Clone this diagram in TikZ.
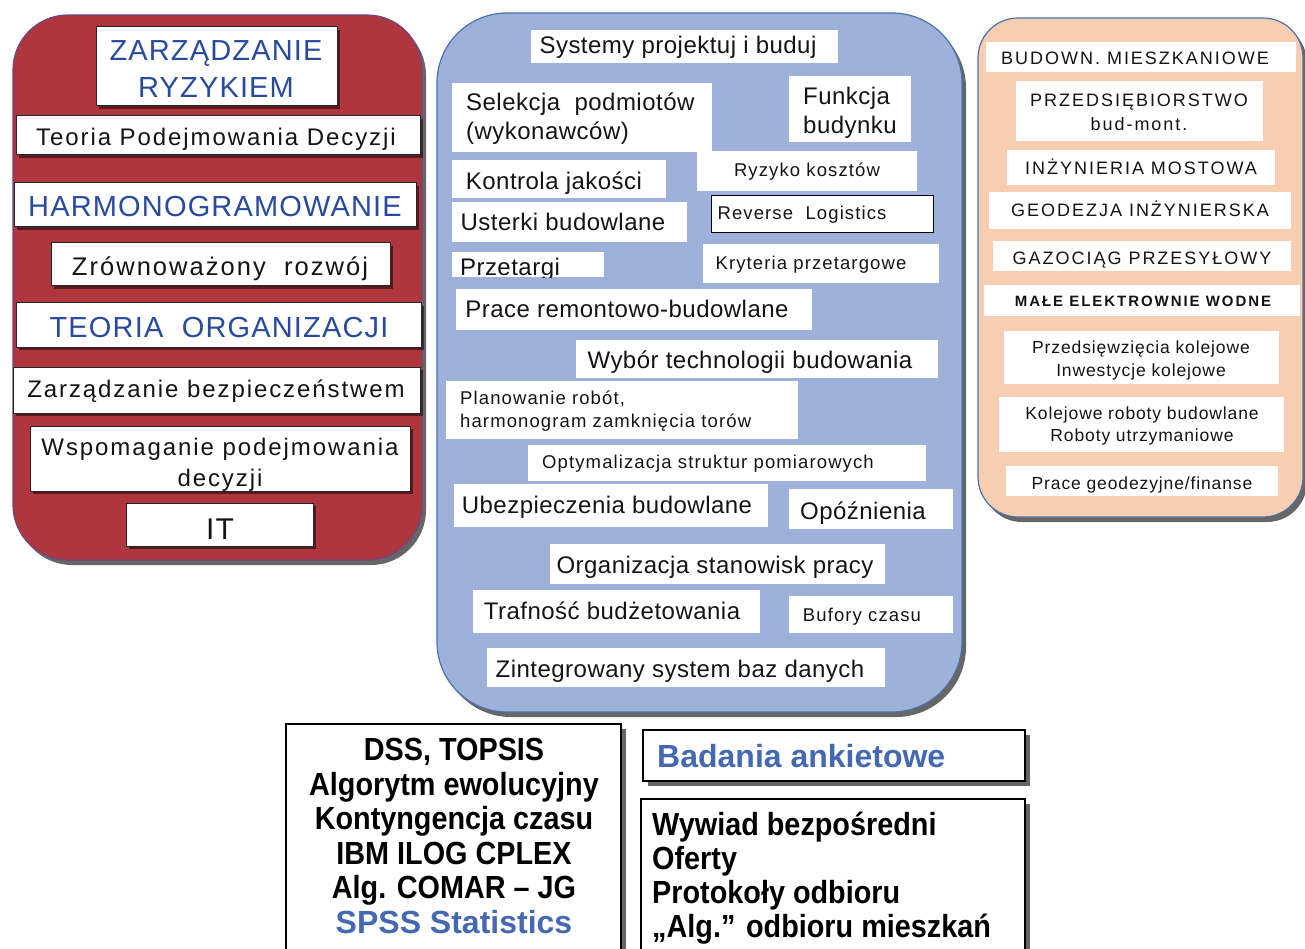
\documentclass[tikz,border=0pt]{standalone}
\usepackage{fontspec}
\setmainfont{Liberation Sans}
\newfontfamily\fLk[LetterSpace=8]{Liberation Sans}
\newfontfamily\fLb[LetterSpace=4]{Liberation Sans}
\newfontfamily\fMb[LetterSpace=2]{Liberation Sans}
\newfontfamily\fMs[LetterSpace=6]{Liberation Sans}
\newfontfamily\fRc[LetterSpace=11]{Liberation Sans}
\newfontfamily\fRl[LetterSpace=5]{Liberation Sans}
\newfontfamily\fRw[LetterSpace=13]{Liberation Sans}
\newfontfamily\fNb[FakeStretch=0.9]{Liberation Sans}
\usetikzlibrary{fit,shadows}
\definecolor{redp}{RGB}{176,54,62}
\definecolor{redb}{RGB}{110,70,130}
\definecolor{bluep}{RGB}{158,177,218}
\definecolor{blueb}{RGB}{74,115,168}
\definecolor{peach}{RGB}{248,206,178}
\definecolor{tblue}{RGB}{40,75,160}
\definecolor{tbluetwo}{RGB}{68,104,178}
\definecolor{tdark}{RGB}{20,20,20}
\newcommand\bx[6]{\node[#6, fit={(#2,#3) (#4,#5)}, inner sep=0pt] (#1) {};}
% for multi-line texts, #4 is the centre of the LAST line
\newcommand\tx[9]{\node[inner sep=0pt, text=tdark, anchor=#2, font={#7\fontsize{#5}{#6}\selectfont}, #8] (#1) at (#3,{#4+0.36*#5}) {#9};}
\begin{document}
\begin{tikzpicture}[x=1pt,y=-1pt,
  panel/.style={line width=1.2pt, drop shadow={shadow xshift=4pt,shadow yshift=-5pt,opacity=0.6,fill=black}},
  lbox/.style={draw=black!85, fill=white, line width=1pt, drop shadow={shadow xshift=3pt,shadow yshift=-3pt,opacity=0.5,fill=black}},
  mbox/.style={fill=white},
  rlbox/.style={fill=white, draw=black, line width=1pt},
  bbox/.style={draw=black, line width=1.5pt, fill=white, drop shadow={shadow xshift=5pt,shadow yshift=-5pt,opacity=0.6,fill=black}}]
\useasboundingbox (0,0) rectangle (1305,949);
\fill[white] (0,0) rectangle (1305,949);
% panels
\node[panel, fill=redp, draw=redb, rounded corners=55pt, inner sep=0pt, fit={(13,15) (422,560)}] (LP) {};
\node[panel, fill=bluep, draw=blueb, rounded corners=70pt, inner sep=0pt, fit={(437,13) (962,712)}] (MP) {};
\node[panel, fill=peach, draw=blueb, rounded corners=40pt, inner sep=0pt, fit={(978,18) (1303,517)}] (RP) {};
% left panel
\bx{b1}{96}{27}{337}{106}{lbox}
\tx{t1}{base}{216}{87}{29}{37}{\fLb}{align=center,text=tblue}{ZARZĄDZANIE\\RYZYKIEM}
\bx{b2}{16}{116}{420}{155}{lbox}
\tx{t2}{base}{216}{137}{24}{29}{\fLk}{}{Teoria Podejmowania Decyzji}
\bx{b3}{14}{183}{416}{227}{lbox}
\tx{t3}{base}{215}{206}{29}{35}{\fLb}{text=tblue}{HARMONOGRAMOWANIE}
\bx{b4}{51}{243}{390}{286}{lbox}
\tx{t4}{base}{220}{266}{25.5}{30}{\fLk}{}{Zrównoważony\ \ rozwój}
\bx{b5}{16}{303}{421}{347}{lbox}
\tx{t5}{base}{219}{327}{29}{35}{\fLb}{text=tblue}{TEORIA\ \ ORGANIZACJI}
\bx{b6}{13}{367}{420}{413}{lbox}
\tx{t6}{base}{216}{389}{24}{29}{\fLk}{}{Zarządzanie bezpieczeństwem}
\bx{b7}{30}{426}{410}{491}{lbox}
\tx{t7}{base}{220}{478}{24}{31}{\fLk}{align=center}{Wspomaganie podejmowania\\decyzji}
\bx{b8}{126}{503}{313}{546}{lbox}
\tx{t8}{base}{220}{529}{30}{36}{\fLb}{}{IT}
% middle panel
\bx{m1}{531}{30}{838}{63}{mbox}
\tx{n1}{base}{678}{45}{24}{29}{\fMb}{}{Systemy projektuj i buduj}
\bx{m2}{452}{83}{712}{152}{mbox}
\tx{n2}{base west}{466}{131}{24}{29}{\fMb}{align=left}{Selekcja\ \ podmiotów\\(wykonawców)}
\bx{m3}{789}{76}{911}{142}{mbox}
\tx{n3}{base west}{803}{125}{24}{29}{\fMb}{align=left}{Funkcja\\budynku}
\bx{m4}{697}{151}{917}{191}{mbox}
\tx{n4}{base}{807}{170}{18.5}{22}{\fMs}{}{Ryzyko kosztów}
\bx{m5}{452}{160}{666}{198}{mbox}
\tx{n5}{base}{554}{181}{24}{29}{\fMb}{}{Kontrola jakości}
\bx{m6}{452}{202}{687}{242}{mbox}
\tx{n6}{base}{563}{222}{24}{29}{\fMb}{}{Usterki budowlane}
\bx{m7}{711}{196}{933}{233}{rlbox}
\tx{n7}{base}{802}{213}{18.5}{22}{\fMs}{}{Reverse\ \ Logistics}
\bx{m8}{452}{252}{604}{277}{mbox}
\begin{scope}
\clip (m8.south west) rectangle (m8.north east);
\tx{n8}{base}{510}{267}{24}{29}{\fMb}{}{Przetargi}
\end{scope}
\bx{m9}{703}{244}{939}{283}{mbox}
\tx{n9}{base}{811}{263}{18.5}{22}{\fMs}{}{Kryteria przetargowe}
\bx{m10}{456}{289}{812}{330}{mbox}
\tx{n10}{base}{627}{309}{24}{29}{\fMb}{}{Prace remontowo-budowlane}
\bx{m11}{576}{340}{938}{378}{mbox}
\tx{n11}{base}{750}{360}{24}{29}{\fMb}{}{Wybór technologii budowania}
\bx{m12}{446}{381}{798}{439}{mbox}
\tx{n12}{base west}{460}{421}{18.5}{23}{\fMs}{align=left}{Planowanie robót,\\harmonogram zamknięcia torów}
\bx{m13}{528}{445}{926}{481}{mbox}
\tx{n13}{base}{708}{462}{18.5}{22}{\fMs}{}{Optymalizacja struktur pomiarowych}
\bx{m14}{454}{484}{768}{527}{mbox}
\tx{n14}{base}{607}{505}{24}{29}{\fMb}{}{Ubezpieczenia budowlane}
\bx{m15}{789}{489}{953}{529}{mbox}
\tx{n15}{base}{863}{511}{24}{29}{\fMb}{}{Opóźnienia}
\bx{m16}{550}{544}{885}{584}{mbox}
\tx{n16}{base}{715}{565}{24}{29}{\fMb}{}{Organizacja stanowisk pracy}
\bx{m17}{473}{590}{760}{633}{mbox}
\tx{n17}{base}{612}{611}{24}{29}{\fMb}{}{Trafność budżetowania}
\bx{m18}{789}{596}{953}{633}{mbox}
\tx{n18}{base}{862}{615}{18.5}{22}{\fMs}{}{Bufory czasu}
\bx{m19}{487}{648}{885}{687}{mbox}
\tx{n19}{base}{680}{669}{24}{29}{\fMb}{}{Zintegrowany system baz danych}
% right panel
\bx{r1}{986}{42}{1296}{72}{mbox}
\tx{s1}{base}{1135}{58}{18}{22}{\fRc}{}{BUDOWN. MIESZKANIOWE}
\bx{r2}{1016}{81}{1263}{141}{mbox}
\tx{s2}{base}{1139}{124}{18}{24}{\fRc}{align=center}{PRZEDSIĘBIORSTWO\\bud-mont.}
\bx{r3}{1007}{150}{1275}{185}{mbox}
\tx{s3}{base}{1141}{168}{18}{22}{\fRc}{}{INŻYNIERIA MOSTOWA}
\bx{r4}{989}{192}{1291}{229}{mbox}
\tx{s4}{base}{1140}{210}{18}{22}{\fRc}{}{GEODEZJA INŻYNIERSKA}
\bx{r5}{993}{241}{1291}{271}{mbox}
\tx{s5}{base}{1142}{258}{18}{22}{\fRc}{}{GAZOCIĄG PRZESYŁOWY}
\bx{r6}{984}{285}{1300}{316}{mbox}
\tx{s6}{base}{1143}{301}{15}{18}{\fRw\bfseries}{}{MAŁE ELEKTROWNIE WODNE}
\bx{r7}{1004}{331}{1279}{384}{mbox}
\tx{s7}{base}{1141}{370}{17.5}{23}{\fRl}{align=center}{Przedsięwzięcia kolejowe\\Inwestycje kolejowe}
\bx{r8}{999}{397}{1284}{452}{mbox}
\tx{s8}{base}{1142}{435}{17.5}{22}{\fRl}{align=center}{Kolejowe roboty budowlane\\Roboty utrzymaniowe}
\bx{r9}{1006}{466}{1278}{496}{mbox}
\tx{s9}{base}{1142}{483}{17.5}{22}{\fRl}{}{Prace geodezyjne/finanse}
% bottom
\bx{bl}{286}{724}{621}{965}{bbox}
\tx{u1}{base}{454}{922}{32}{34.6}{\fNb\bfseries}{align=center,text=black}{DSS, TOPSIS\\Algorytm ewolucyjny\\Kontyngencja czasu\\IBM ILOG CPLEX\\Alg. COMAR – JG\\\textcolor{tbluetwo}{\rmfamily SPSS Statistics}}
\bx{ba}{643}{730}{1025}{781}{bbox}
\tx{u2}{base west}{657}{756}{32}{36}{\bfseries}{text=tbluetwo}{Badania ankietowe}
\bx{br}{641}{799}{1025}{965}{bbox}
\tx{u3}{base west}{652}{926}{32}{34}{\fNb\bfseries}{align=left,text=black}{Wywiad bezpośredni\\Oferty\\Protokoły odbioru\\„Alg.” odbioru mieszkań}
\end{tikzpicture}
\end{document}
